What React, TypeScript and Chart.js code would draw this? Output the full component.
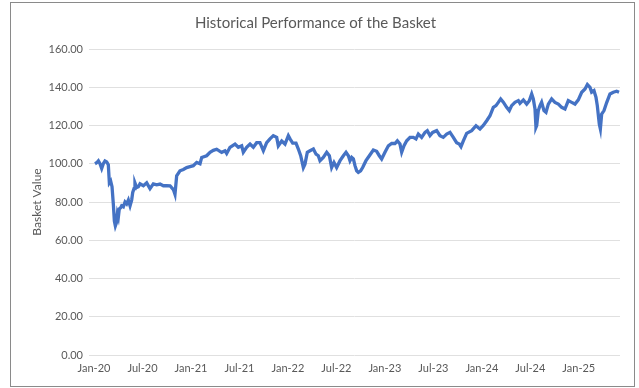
import React, { useEffect, useRef } from "react";
import { Chart, registerables } from "chart.js";

Chart.register(...registerables);

const chartTitle = "Historical Performance of the Basket";
const yAxisTitle = "Basket Value";

// months elapsed since 1 Jan 2020
const monthsSinceJan2020 = [
  0.12, 0.33, 0.54, 0.74, 0.95, 1.15, 1.36, 1.57, 1.77, 1.9, 2.06, 2.23, 2.39, 2.52, 2.64, 2.76, 2.89, 3.01, 3.13, 3.3,
  3.42, 3.63, 3.84, 4.04, 4.25, 4.46, 4.66, 4.79, 4.95, 5.07, 5.28, 5.49, 5.69, 6.11, 6.52, 6.93, 7.34, 7.76, 8.17, 8.58,
  8.99, 9.41, 9.61, 9.82, 10.02, 10.23, 10.64, 11.06, 11.47, 11.88, 12.29, 12.71, 13.12, 13.33, 13.94, 14.36, 14.77, 15.18, 15.59,
  15.8, 16.21, 16.42, 16.83, 17.45, 17.86, 18.28, 18.48, 18.89, 19.31, 19.72, 20.13, 20.54, 20.96, 21.37, 21.78, 22.19, 22.61,
  22.81, 23.23, 23.64, 24.05, 24.26, 24.59, 25.0, 25.29, 25.58, 25.91, 26.11, 26.4, 26.73, 27.15, 27.48, 27.76, 27.97, 28.38,
  28.8, 29.13, 29.41, 29.7, 30.03, 30.45,
  30.86, 31.19, 31.48, 31.68, 31.89, 32.1, 32.3, 32.51, 32.71, 33.0, 33.25, 33.66, 34.08, 34.57, 34.98, 35.31, 35.6, 36.01,
  36.43, 36.84, 37.25, 37.54, 37.87, 38.08, 38.37, 38.7, 39.11, 39.52, 39.85, 40.14, 40.55, 40.97, 41.25, 41.58, 41.91, 42.41,
  42.82, 43.23, 43.65, 44.06, 44.47, 44.88, 45.21, 45.42, 45.71, 46.12, 46.74, 47.28, 47.77,
  48.18, 48.6, 49.01, 49.42, 49.75, 50.04, 50.33, 50.66, 51.07, 51.4, 51.69, 52.1, 52.52, 52.72, 53.14, 53.55, 53.88, 54.17,
  54.37, 54.58, 54.7, 54.79, 54.99, 55.2, 55.4, 55.69, 55.94, 56.23, 56.64, 57.05, 57.47, 57.88, 58.29, 58.7, 59.12, 59.53,
  59.94, 60.36, 60.77, 61.06, 61.39, 61.59, 61.88, 62.13, 62.29, 62.54, 62.67, 62.83, 63.12, 63.45, 63.86, 64.27, 64.69, 64.98,
];

const basketValues = [
  100, 100.5, 101.5, 100, 97.5, 100, 101.5, 101, 99.5, 90, 91, 88, 79, 70, 67.5, 69, 73.8, 72, 76.4, 77,
  78, 77.5, 80, 79, 81, 78, 81, 85, 87, 90, 87.6, 88, 89.5, 88.5, 90, 87, 89.5, 89, 89.4, 88.5,
  88.6, 88.5, 87.5, 86.5, 84, 93.7, 96.3, 97, 98, 98.5, 99, 100.7, 100, 103.3, 104.2, 106, 107, 107.6, 106.5,
  106, 106.8, 105.4, 108.6, 110.3, 108.6, 109.4, 106, 108.6, 110.3, 108.6, 111, 111, 106.8, 111, 113, 114.7, 113.8,
  109.4, 111.9, 110.3, 114.7, 113, 110.8, 110.8, 107.7, 104.2, 98, 99.8, 106, 106.8, 107.7, 105, 104.2, 101.6, 103.3,
  106, 104.2, 98, 100.7, 98, 101.6,
  104.2, 106, 104.2, 101.6, 103.3, 102.5, 99, 96.3, 95.5, 96.3, 98, 101.6, 104.2, 107.2, 106.5, 104.2, 102.5, 106,
  109.4, 110.6, 110.6, 112, 110.3, 106, 109.4, 112, 113.8, 113.8, 113, 115.5, 113.8, 116.4, 117.3, 114.7, 116.4, 117.3,
  114.7, 113.8, 115.5, 116.4, 113.8, 111, 110.3, 108.9, 112, 115.9, 117.3, 119.9, 118.2,
  120, 122.5, 125.1, 129.5, 130.4, 132.1, 133.9, 132.2, 129.5, 127.8, 130.4, 132.1, 133, 131.6, 133.4, 131.2, 133, 136.5,
  133.9, 128.6, 119, 119.9, 127.8, 130.4, 132.2, 127.8, 126.9, 131.2, 133.9, 132.1, 131.2, 129.5, 128.6, 133, 132.1, 131.2,
  133.4, 137.4, 139.1, 141.4, 139.9, 137.4, 138.2, 134.7, 130.4, 120.7, 118.2, 126, 127.8, 132, 136.5, 137.4, 137.9, 137.4,
];

const xTickMonths = [0, 6, 12, 18, 24, 30, 36, 42, 48, 54, 60];
const xTickLabels = ["Jan-20", "Jul-20", "Jan-21", "Jul-21", "Jan-22", "Jul-22", "Jan-23", "Jul-23", "Jan-24", "Jul-24", "Jan-25"];

const FONT = "Lato, 'Open Sans', sans-serif";
const TEXT = "#595959";

export default function App() {
  const ref = useRef<HTMLCanvasElement | null>(null);

  useEffect(() => {
    if (!ref.current) return;
    const points = monthsSinceJan2020.map((m, i) => ({ x: m, y: basketValues[i] }));
    const chart = new Chart(ref.current, {
      type: "line",
      data: {
        datasets: [
          {
            data: points,
            borderColor: "#4472C4",
            borderWidth: 3.3,
            pointRadius: 0,
            tension: 0,
            fill: false,
          },
        ],
      },
      options: {
        animation: false,
        responsive: false,
        layout: { padding: { left: 0, right: 14, top: 0, bottom: 0 } },
        plugins: {
          legend: { display: false },
          tooltip: { enabled: false },
          title: {
            display: true,
            text: chartTitle,
            color: TEXT,
            font: { family: FONT, size: 15, weight: "normal" },
            padding: { top: 11, bottom: 17 },
          },
        },
        scales: {
          x: {
            type: "linear",
            min: -0.62,
            max: 65.1,
            grid: { display: false, drawTicks: false },
            border: { display: false },
            afterBuildTicks: (s: any) => {
              s.ticks = xTickMonths.map((v) => ({ value: v }));
            },
            afterFit: (s: any) => {
              s.height = 31;
            },
            ticks: {
              autoSkip: false,
              maxRotation: 0,
              padding: 7,
              color: TEXT,
              font: { family: FONT, size: 11 },
              callback: (v: any) => {
                const i = xTickMonths.indexOf(Number(v));
                return i >= 0 ? xTickLabels[i] : "";
              },
            },
          },
          y: {
            min: 0,
            max: 160,
            grid: { color: "#e0e0e0", drawTicks: false, lineWidth: 1 },
            border: { display: false },
            afterFit: (s: any) => {
              s.width = 78;
            },
            ticks: {
              stepSize: 20,
              padding: 6,
              color: TEXT,
              font: { family: FONT, size: 11 },
              callback: (v: any) => Number(v).toFixed(2),
            },
            title: {
              display: true,
              text: yAxisTitle,
              color: TEXT,
              font: { family: FONT, size: 12 },
              padding: { top: 19, bottom: 0 },
            },
          },
        },
      },
    });
    return () => chart.destroy();
  }, []);

  return (
    <div
      style={{
        position: "absolute",
        left: 10,
        top: 2,
        width: 623,
        height: 383,
        border: "1px solid #8a8a8a",
        background: "#fff",
      }}
    >
      <canvas ref={ref} width={623} height={383} style={{ width: 623, height: 383, display: "block" }} />
    </div>
  );
}
